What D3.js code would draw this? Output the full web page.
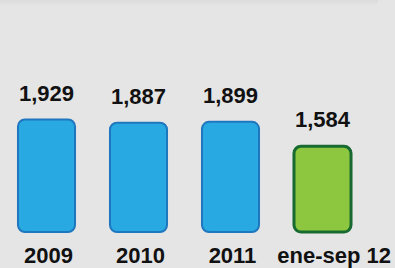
<!DOCTYPE html>
<html>
<head>
<meta charset="utf-8">
<script src="https://cdn.jsdelivr.net/npm/d3@7"></script>
<style>
  html, body { margin: 0; padding: 0; background: #e5e5e5; }
  svg { display: block; }
  text { font-family: "Liberation Sans", Arial, sans-serif; font-weight: bold; fill: #111; }
</style>
</head>
<body>
<svg id="chart" width="395" height="268"></svg>
<script>
const categories = ["2009", "2010", "2011", "ene-sep 12"];
const values = [1929, 1887, 1899, 1584];
const valueLabels = ["1,929", "1,887", "1,899", "1,584"];
const fills = ["#29a9e1", "#29a9e1", "#29a9e1", "#8dc63f"];
const strokes = ["#1f77bf", "#1f77bf", "#1f77bf", "#176a30"];

const W = 395, H = 268;
const svg = d3.select("#chart");

// background + top panel shadow
const defs = svg.append("defs");
const g1 = defs.append("linearGradient").attr("id", "shade").attr("x1", 0).attr("y1", 0).attr("x2", 0).attr("y2", 1);
g1.append("stop").attr("offset", "0%").attr("stop-color", "#d2d2d2");
g1.append("stop").attr("offset", "100%").attr("stop-color", "#e5e5e5");
svg.append("rect").attr("width", W).attr("height", H).attr("fill", "#e5e5e5");
svg.append("rect").attr("x", -10).attr("y", -6).attr("width", 388).attr("height", 12).attr("rx", 5)
  .attr("fill", "url(#shade)");

const x = d3.scaleBand().domain(categories).range([0.5, 368.5]).paddingInner(0.38).paddingOuter(0.19);
const y = d3.scaleLinear().domain([480, 2000]).range([232, 114]);

const data = categories.map((c, i) => ({ c, v: values[i], lab: valueLabels[i], fill: fills[i], stroke: strokes[i] }));

svg.selectAll("rect.bar").data(data).enter().append("rect")
  .attr("class", "bar")
  .attr("x", d => x(d.c))
  .attr("y", d => y(d.v))
  .attr("width", x.bandwidth())
  .attr("height", d => y(480) - y(d.v))
  .attr("rx", 7).attr("ry", 7)
  .attr("fill", d => d.fill)
  .attr("stroke", d => d.stroke)
  .attr("stroke-width", (d, i) => i === 3 ? 3 : 2);

svg.selectAll("text.val").data(data).enter().append("text")
  .attr("class", "val")
  .attr("x", d => x(d.c) + x.bandwidth() / 2)
  .attr("y", d => y(d.v) - 19)
  .attr("text-anchor", "middle")
  .attr("font-size", 22)
  .text(d => d.lab);

const cat = svg.selectAll("text.cat").data(data).enter().append("text")
  .attr("class", "cat")
  .attr("y", 263)
  .attr("text-anchor", "middle")
  .attr("font-size", 22)
  .text(d => d.c);
cat.each(function(d) {
  const w = this.getComputedTextLength();
  const center = x(d.c) + x.bandwidth() / 2 + 2;
  const cx = w > x.step() ? W - 4 - w / 2 : center;
  d3.select(this).attr("x", cx);
});
</script>
</body>
</html>
